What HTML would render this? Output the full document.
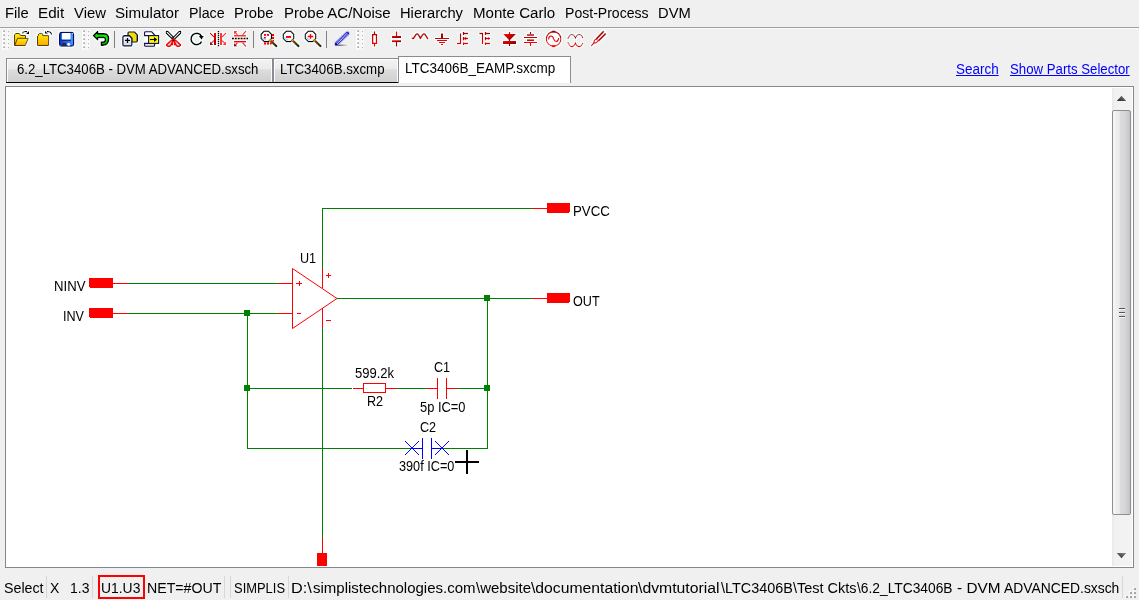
<!DOCTYPE html>
<html>
<head>
<meta charset="utf-8">
<title>LTC3406B_EAMP.sxcmp</title>
<style>
html,body{margin:0;padding:0;}
body{width:1139px;height:600px;overflow:hidden;background:#f0f0f0;position:relative;font-family:"Liberation Sans",sans-serif;color:#000;}
.a{position:absolute;}
.t{position:absolute;white-space:pre;line-height:1;transform-origin:0 0;}
.m{font-size:15.5px;top:4.5px;}
.s{font-size:15.5px;top:579.5px;}
.sc{font-size:14px;}
.tab{position:absolute;box-sizing:border-box;border:1px solid #898c95;border-bottom:none;box-shadow:inset 1px 1px 0 rgba(255,255,255,.9),inset -1px 0 0 rgba(255,255,255,.9);}
.tab.off{top:58px;height:24px;background:linear-gradient(#f2f2f2 0,#ebebeb 45%,#dddddd 46%,#cfcfcf 100%);}
.tab.on{top:56px;height:27px;background:#fff;}
.tt{font-size:14px;}
.lnk{font-size:14px;color:#0000ff;text-decoration:underline;}
.sep{position:absolute;width:1px;background:#d7d7d7;top:576px;height:22px;}
.ic{position:absolute;top:31px;width:16px;height:16px;overflow:visible;}
.grip{position:absolute;top:30px;width:7px;height:20px;}
</style>
</head>
<body>
<!-- menu bar -->
<span class="t m" style="left:4.82px;transform:scaleX(0.9524)">File</span>
<span class="t m" style="left:37.77px;transform:scaleX(0.9804)">Edit</span>
<span class="t m" style="left:73.76px;transform:scaleX(0.9579)">View</span>
<span class="t m" style="left:115.01px;transform:scaleX(0.9776)">Simulator</span>
<span class="t m" style="left:189.09px;transform:scaleX(0.9189)">Place</span>
<span class="t m" style="left:234.05px;transform:scaleX(0.9557)">Probe</span>
<span class="t m" style="left:283.53px;transform:scaleX(0.9677)">Probe AC/Noise</span>
<span class="t m" style="left:399.81px;transform:scaleX(0.9492)">Hierarchy</span>
<span class="t m" style="left:472.78px;transform:scaleX(0.9734)">Monte Carlo</span>
<span class="t m" style="left:564.60px;transform:scaleX(0.9069)">Post-Process</span>
<span class="t m" style="left:658.26px;transform:scaleX(0.9500)">DVM</span>
<div class="a" style="left:0;top:27px;width:1139px;height:1px;background:#a0a0a0"></div>
<div class="a" style="left:0;top:28px;width:1139px;height:1px;background:#fafafa"></div>

<!-- TOOLBAR -->
<!--TB0--><svg class="a" style="left:0;top:28px" width="1139" height="28" viewBox="0 28 1139 28">
<defs>
<linearGradient id="gy" x1="0" y1="0" x2="0" y2="1"><stop offset="0" stop-color="#fff200"/><stop offset="1" stop-color="#ffa800"/></linearGradient>
<linearGradient id="gr" x1="0" y1="0" x2="1" y2="1"><stop offset="0" stop-color="#ff0808"/><stop offset="1" stop-color="#7a0000"/></linearGradient>
<linearGradient id="grv" gradientUnits="userSpaceOnUse" x1="0" y1="31" x2="0" y2="47"><stop offset="0" stop-color="#a00000"/><stop offset="1" stop-color="#ff0000"/></linearGradient>
<linearGradient id="grv2" gradientUnits="userSpaceOnUse" x1="0" y1="31" x2="0" y2="47"><stop offset="0" stop-color="#ff0000"/><stop offset="1" stop-color="#900000"/></linearGradient>
<linearGradient id="gb" x1="0" y1="0" x2="1" y2="0"><stop offset="0" stop-color="#0a3fd0"/><stop offset="0.75" stop-color="#2f7cf5"/><stop offset="1" stop-color="#1a5ce0"/></linearGradient>
<linearGradient id="gw" x1="0" y1="0" x2="0" y2="1"><stop offset="0" stop-color="#ffffff"/><stop offset="1" stop-color="#d8d8d8"/></linearGradient>
<linearGradient id="gg" x1="0" y1="0" x2="0" y2="1"><stop offset="0" stop-color="#00c800"/><stop offset="0.45" stop-color="#00ff00"/><stop offset="1" stop-color="#00a000"/></linearGradient>
<linearGradient id="gh" x1="0" y1="0" x2="1" y2="1"><stop offset="0" stop-color="#c89000"/><stop offset="0.14" stop-color="#6a4a08"/><stop offset="1" stop-color="#3a2400"/></linearGradient>
<linearGradient id="gsh" gradientUnits="userSpaceOnUse" x1="335" y1="0" x2="348" y2="0"><stop offset="0" stop-color="#000"/><stop offset="1" stop-color="#000" stop-opacity="0"/></linearGradient>
<filter id="halo" x="-20%" y="-20%" width="140%" height="140%"><feMorphology in="SourceAlpha" operator="dilate" radius="0.9" result="d"/><feGaussianBlur in="d" stdDeviation="0.35" result="b"/><feFlood flood-color="#f6ffff" flood-opacity="0.95"/><feComposite in2="b" operator="in" result="h"/><feMerge><feMergeNode in="h"/><feMergeNode in="SourceGraphic"/></feMerge></filter>
<g id="grip"><g fill="#fdfdfd"><rect x="-1" y="30" width="3.4" height="19.6"/><rect x="3.6" y="30" width="3" height="19.6"/></g><g fill="#949494"><rect x="0.4" y="30.4" width="1.5" height="1.5"/><rect x="0.4" y="34.4" width="1.5" height="1.5"/><rect x="0.4" y="38.4" width="1.5" height="1.5"/><rect x="0.4" y="42.4" width="1.5" height="1.5"/><rect x="0.4" y="46.4" width="1.5" height="1.5"/></g><g fill="#a8a8a8"><rect x="4.900" y="31" width="1" height="1.2"/><rect x="4.900" y="35" width="1" height="1.2"/><rect x="4.900" y="39" width="1" height="1.2"/><rect x="4.900" y="43" width="1" height="1.2"/><rect x="4.900" y="47" width="1" height="1.2"/></g></g>
<g id="lens"><path d="M-2.200 -5.300H2.200L5.300 -2.200V2.200L2.200 5.300H-2.200L-5.300 2.200V-2.200Z" fill="#fafafa" stroke="#000" stroke-width="1.300"/><path d="M-3.900 1.200Q-3.200 3.300 -0.300 3.300" fill="none" stroke="#a0dcf8" stroke-width="1.500"/><path d="M4 4L10 9.700" stroke="url(#gh)" stroke-width="2.400" stroke-linecap="round"/><circle cx="4.200" cy="4.100" r="0.750" fill="#e0a000"/></g>
</defs>
<use href="#grip" x="3"/>
<use href="#grip" x="83"/>
<use href="#grip" x="357"/>
<g shape-rendering="crispEdges" fill="#808080"><rect x="114" y="31" width="1" height="17"/><rect x="253" y="31" width="1" height="17"/><rect x="326" y="31" width="1" height="17"/></g>
<!-- open -->
<g filter="url(#halo)">
<path d="M14.500 45.500V35L15.500 33.500H19.500L20.500 35.500H25.500V38.500L20 45.500Z" fill="url(#gy)" stroke="#5c3a00" stroke-width="1"/>
<path d="M14.600 45.500L17.600 38.300H28.300L25.300 45.500Z" fill="url(#gy)" stroke="#5c3a00" stroke-width="1" stroke-linejoin="round"/>
<path d="M22.500 33.600Q22.800 31.600 25 31.600H27" fill="none" stroke="#000" stroke-width="1.300"/>
<path d="M25.800 33.900H29V30.700Z" fill="#000"/>
</g>
<!-- close -->
<g filter="url(#halo)">
<path d="M37.500 45.500V36L38.500 35.600V34L39.200 33.400H42L42.700 34V35.600H48.600V45.500Z" fill="url(#gy)" stroke="#5c3a00" stroke-width="1" stroke-linejoin="round"/>
<path d="M51.500 34.800Q51.600 31.600 48 31.600H47" fill="none" stroke="#000" stroke-width="1.300"/>
<path d="M45 30.600V33.800H48.200Z" fill="#000"/>
</g>
<!-- save -->
<g filter="url(#halo)">
<rect x="59.600" y="32.400" width="14" height="13.800" rx="1.800" fill="url(#gb)" stroke="#000a70" stroke-width="1.200"/>
<rect x="61.800" y="33" width="8.800" height="6.800" rx="0.800" fill="#fff"/>
<path d="M61.500 40.200H71" stroke="#000a70" stroke-width="0.900" fill="none"/>
<rect x="71.300" y="34.500" width="1.400" height="10" fill="#58b0ff" opacity="0.800"/>
<rect x="62" y="43" width="4" height="2.700" fill="#2a2a2a"/>
<circle cx="68.700" cy="44.300" r="1.500" fill="#fff"/>
<circle cx="72.300" cy="33.700" r="0.600" fill="#fff"/>
</g>
<!-- undo -->
<g filter="url(#halo)">
<path d="M93.500 35.600L97.600 31.500V33.700H104.200Q108.600 33.700 108.600 38.600Q108.600 45.200 103 45.200H101.300V42H103.300Q105.300 42 105.300 39.600Q105.300 37.500 103.300 37.500H97.600V39.700Z" fill="url(#gg)" stroke="#000" stroke-width="1.500" stroke-linejoin="round"/>
</g>
<!-- copy -->
<g filter="url(#halo)">
<path d="M127.900 33Q127.900 31.900 129 31.900H134.500L137.300 34.700V41Q137.300 42.100 136.200 42.100H127.900Z" fill="#f0e000" stroke="#10104c" stroke-width="1.400"/>
<path d="M122.800 37Q122.800 35.700 124.100 35.700H129.400L131.900 38.200V44.700Q131.900 46 130.600 46H124.100Q122.800 46 122.800 44.700Z" fill="url(#gw)" stroke="#10104c" stroke-width="1.400"/>
<path d="M125 40.400H130M127.500 37.900V42.900" stroke="#000" stroke-width="1.300" fill="none"/>
</g>
<!-- paste -->
<rect x="144" y="31" width="16" height="16" fill="#fff"/>
<g>
<path d="M144.600 35.600V32.600Q144.600 31.700 145.500 31.700H151.500L154.600 35V35.600Z" fill="#fff" stroke="#10104c" stroke-width="1.100" stroke-linejoin="round"/>
<path d="M144.600 43.400H154.600V45.300Q154.600 46.300 153.600 46.300H145.600Q144.600 46.300 144.600 45.300Z" fill="#e8e8e4" stroke="#10104c" stroke-width="1.100"/>
<rect x="148.600" y="35.600" width="10" height="7.800" fill="#ffff00" stroke="#10104c" stroke-width="1.100"/>
<path d="M150 39.500H156" stroke="#000" stroke-width="1.100"/>
<path d="M154 37V42L157.200 39.500Z" fill="#000"/>
</g>
<!-- cut -->
<g filter="url(#halo)">
<path d="M166.300 31.300H167.900L174.300 38L173.300 40L166.300 33.200Z" fill="#fff" stroke="#000" stroke-width="1.200" stroke-linejoin="round"/>
<path d="M180.700 31.300H179.100L172.700 38L173.700 40L180.700 33.200Z" fill="#fff" stroke="#000" stroke-width="1.200" stroke-linejoin="round"/>
<path d="M173.500 39.500L171.500 40.200L166.600 44.600Q166.300 45.800 167.600 46.200L169.800 46.200Q170.900 45.800 171.300 44.500L172.400 42V45.500" fill="#b8e4e4" stroke="#ff0000" stroke-width="1.600" stroke-linejoin="round"/>
<path d="M173.500 39.500L175.500 40.200L180.400 44.600Q180.700 45.800 179.400 46.200L177.200 46.200Q176.100 45.800 175.700 44.500L174.600 42V45.500" fill="#b8e4e4" stroke="#ff0000" stroke-width="1.600" stroke-linejoin="round"/>
<path d="M171.500 40L173.500 39L175.500 40L174.800 42.500H172.200Z" fill="#ff0000"/>
<circle cx="173.500" cy="40.400" r="0.700" fill="#000"/>
</g>
<!-- rotate -->
<g filter="url(#halo)">
<path d="M201.500 36.300A5.600 5.600 0 1 0 201.700 41.300" fill="none" stroke="#000" stroke-width="1.800"/>
<path d="M198.600 36.100H204L201.600 39.800Z" fill="#000"/>
</g>
<!-- mirror -->
<g filter="url(#halo)">
<rect x="214" y="33" width="2" height="12" fill="url(#grv2)"/>
<rect x="220" y="33" width="2" height="12" fill="#ff3838"/>
<path d="M210 33L214 37M214 40.500L211 43.500" stroke="#e80000" stroke-width="1.300" fill="none"/>
<path d="M226 33L222 37M222 40.500L225 43.500" stroke="#ff3030" stroke-width="1.300" fill="none"/>
<path d="M210 41.500V45H213.500Z" fill="#a00000"/>
<path d="M226 41.500V45H222.500Z" fill="#ff3030"/>
</g>
<path d="M218.500 31V47" stroke="#000" stroke-width="1.300" stroke-dasharray="1.200 0.800" fill="none"/>
<!-- flip -->
<g filter="url(#halo)">
<rect x="234" y="35" width="12" height="1.700" fill="#ff3838"/>
<rect x="234" y="41" width="12" height="1.700" fill="#ff0000"/>
<path d="M237.500 35L235 32M242.500 35L246 31" stroke="#ff3030" stroke-width="1.300" fill="none"/>
<path d="M237.500 42.700L235 45.500M242.500 42.700L246 46.500" stroke="#e00000" stroke-width="1.300" fill="none"/>
<path d="M234 31H237.500L234 34.500Z" fill="#ff3030"/>
<path d="M234 46.500H237.500L234 43Z" fill="#a00000"/>
</g>
<path d="M232 38.500H248" stroke="#000" stroke-width="1.300" stroke-dasharray="1.800 1.100" fill="none"/>
<!-- zoom box -->
<g fill="#ff0000"><rect x="264" y="34" width="2" height="2"/><rect x="267" y="34" width="2" height="2"/><rect x="272" y="34" width="2" height="2"/><rect x="272" y="37" width="2" height="2"/><rect x="272" y="40" width="2" height="2"/><rect x="264" y="42.300" width="2" height="2"/><rect x="267" y="42.300" width="2" height="2"/><rect x="270" y="42.300" width="2" height="2"/></g>
<g filter="url(#halo)"><use href="#lens" x="266.300" y="36.400"/></g>
<g fill="#ff0000"><rect x="264" y="34" width="2" height="1.800"/><rect x="267" y="34" width="2" height="1.800"/><path d="M264 37H265.800V38.600H264Z"/><rect x="272" y="34" width="2" height="2"/><rect x="272" y="37" width="2" height="2"/><rect x="272.500" y="40" width="1.500" height="1.500"/><rect x="264" y="42.300" width="2" height="2"/><rect x="267" y="42.300" width="2" height="2"/><rect x="270" y="42.300" width="1.800" height="2"/></g>
<!-- zoom out -->
<g filter="url(#halo)"><use href="#lens" x="288.500" y="36.400"/></g>
<rect x="286" y="36" width="5" height="1.900" fill="#ff0000"/>
<!-- zoom in -->
<g filter="url(#halo)"><use href="#lens" x="310.500" y="36.400"/></g>
<path d="M307.800 36.500H313.200M310.500 34V38.800" stroke="#ff0000" stroke-width="1.300" fill="none"/>
<!-- pencil -->
<g>
<path d="M335.300 45.200H347.500" stroke="url(#gsh)" stroke-width="1.200"/>
<path d="M336.600 43.600L347.400 33.400" stroke="#a8a8ff" stroke-width="5" stroke-linecap="round" opacity="0.600"/>
<path d="M336.600 43.600L347.400 33.400" stroke="#2222c8" stroke-width="3.300" stroke-linecap="round"/>
<path d="M337 43.300L347.200 33.600" stroke="#fff" stroke-width="1.900" stroke-dasharray="0.650 0.700" opacity="0.950"/>
<path d="M335.200 45.300L335.600 43.600L337 44.800Z" fill="#000"/>
</g>
<!-- resistor -->
<g filter="url(#halo)">
<path d="M374.500 31.200V46.800" stroke="url(#grv)" stroke-width="1.300"/>
<rect x="372.600" y="34.600" width="3.900" height="8.800" fill="#fff" stroke="url(#grv)" stroke-width="1.300"/>
</g>
<!-- capacitor -->
<g filter="url(#halo)">
<path d="M396.500 31.200V36M396.500 42V46.800" stroke="url(#grv2)" stroke-width="1.300"/>
<rect x="392" y="35.900" width="9" height="2.100" fill="url(#gr)"/>
<rect x="392" y="40.100" width="9" height="2.100" fill="url(#gr)"/>
</g>
<!-- inductor -->
<g filter="url(#halo)">
<path d="M412.300 38.300H413.600L415.400 35.400Q417.100 32.300 418.800 35.400L420.400 38.400L422.200 35.400Q424 32.300 425.700 35.400L427.600 38.600" fill="none" stroke="url(#grv)" stroke-width="1.800" stroke-linejoin="round" stroke-linecap="round"/>
</g>
<!-- ground -->
<g filter="url(#halo)">
<rect x="441" y="33.300" width="2" height="5" fill="#a80000"/>
<rect x="435" y="38" width="14" height="1" fill="#c80000"/>
<rect x="437" y="40" width="10" height="1" fill="#e00000"/>
<rect x="439" y="42" width="6" height="1" fill="#f00000"/>
<rect x="441" y="44" width="2" height="1" fill="#ff0000"/>
</g>
<!-- nmos -->
<g filter="url(#halo)" stroke="url(#grv)" stroke-width="1.300" fill="none">
<path d="M460.500 33.300V43.500H457"/>
<path d="M463.500 32V35M463.500 37V40.500M463.500 42.300V45"/>
<path d="M463.500 33.500H468M463.500 38.500H468M463.500 43.500H468"/>
<path d="M463.800 38.500L466.200 36.200V40.800Z" fill="#e00000" stroke="none"/>
</g>
<!-- pmos -->
<g filter="url(#halo)" stroke="url(#grv)" stroke-width="1.300" fill="none">
<path d="M479.200 33.500H482.500V44"/>
<path d="M485.500 32V35M485.500 37V40.500M485.500 42.300V45"/>
<path d="M485.500 33.500H490M485.500 38.500H490M485.500 43.500H490"/>
<path d="M490 38.500L488 36.800V40.200Z" fill="#e00000" stroke="none"/>
</g>
<!-- diode -->
<g filter="url(#halo)">
<path d="M509.500 32V46" stroke="url(#grv2)" stroke-width="1.300"/>
<path d="M503 34.100H516.100L509.500 40.800Z" fill="url(#gr)"/>
<rect x="503" y="41" width="13" height="3" fill="url(#gr)"/>
</g>
<!-- battery -->
<g filter="url(#halo)">
<path d="M530.500 32V34M530.500 43V46" stroke="url(#grv)" stroke-width="1.300"/>
<rect x="527" y="34.100" width="7" height="1.800" fill="#a80000"/>
<rect x="524" y="37" width="13" height="1" fill="#c00000"/>
<rect x="527" y="39.200" width="7" height="1.800" fill="#e00000"/>
<rect x="524" y="42" width="13" height="1" fill="#ff0000"/>
</g>
<!-- ac source -->
<g filter="url(#halo)">
<circle cx="553.600" cy="38.900" r="7.300" fill="#fff" stroke="url(#grv)" stroke-width="1.100"/>
<path d="M550.600 32.600L552.400 30.500H554.800L556.600 32.600Z" fill="#a80000"/>
<path d="M550.600 45.200L552.400 47.300H554.800L556.600 45.200Z" fill="#ff0000"/>
<path d="M548.600 39.500Q548.800 36 551 36Q552.800 36 553.600 38.800Q554.500 41.500 556.200 41.500Q558.400 41.500 558.600 38" fill="none" stroke="#e80000" stroke-width="1.100"/>
</g>
<!-- waveform -->
<g filter="url(#halo)" fill="none" stroke-width="1.050">
<path d="M567.200 38.200H568.400Q569.600 34.400 571.900 34.400Q574 34.400 575.400 38Q576.800 34.400 579.100 34.400Q581.600 34.400 583 38.200" stroke="#b00000"/>
<path d="M567.200 42.800H568.400Q569.600 46.600 571.900 46.600Q574 46.600 575.400 43Q576.800 46.600 579.100 46.600Q581.600 46.600 583 42.800" stroke="#f00000"/>
</g>
<!-- probe -->
<g filter="url(#halo)">
<path d="M591.200 46L593.800 43" stroke="#f00000" stroke-width="1.200"/>
<path d="M593.500 43.300L594.400 40.300L596.500 38.600L598.500 40.600L596.500 42.600Z" fill="#fff" stroke="#e00000" stroke-width="1.200" stroke-linejoin="round"/>
<path d="M597.400 39.600L604.800 32.400" stroke="#fff" stroke-width="3.400"/>
<path d="M596.300 38.800L603.700 31.200M598.500 40.800L605.800 33.600" stroke="#b80000" stroke-width="1.700"/>
</g>
</svg>
<!--TB1-->

<!-- tabs -->
<div class="tab off" style="left:6px;width:267px"></div>
<div class="tab off" style="left:273px;width:126px"></div>
<div class="a" style="left:6px;top:82px;width:392px;height:1px;background:#000"></div>
<div class="tab on" style="left:398px;width:173px"></div>
<span class="t tt" style="left:17.28px;top:62px;transform:scaleX(0.9423)">6.2_LTC3406B - DVM ADVANCED.sxsch</span>
<span class="t tt" style="left:279.75px;top:62px;transform:scaleX(0.9485)">LTC3406B.sxcmp</span>
<span class="t tt" style="left:404.79px;top:61px;transform:scaleX(0.9641)">LTC3406B_EAMP.sxcmp</span>
<span class="t lnk" style="left:955.74px;top:62px;transform:scaleX(0.9621)">Search</span>
<span class="t lnk" style="left:1009.74px;top:62px;transform:scaleX(0.9437)">Show Parts Selector</span>

<!-- canvas -->
<div class="a" style="left:5px;top:86px;width:1127px;height:480px;border:1px solid #828790;background:#fff"></div>
<!-- scrollbar -->
<div class="a" style="left:1112px;top:88px;width:20px;height:478px;background:linear-gradient(90deg,#e9e9e9 0,#f1f1f1 15%,#f3f3f3 100%)"></div>
<div class="a" style="left:1112px;top:110px;width:19px;height:405px;box-sizing:border-box;border:1px solid #8f8f8f;border-radius:2px;background:linear-gradient(90deg,#f6f6f6 0,#e9e9ea 38%,#dcdcdf 42%,#d6d6da 70%,#c4c4c8 100%)"></div>
<svg class="a" style="left:1112px;top:88px" width="20" height="478" viewBox="1112 88 20 478">
<defs><linearGradient id="ga" x1="0" y1="1" x2="1" y2="0"><stop offset="0" stop-color="#202020"/><stop offset="1" stop-color="#8a8a8a"/></linearGradient></defs>
<path d="M1121.500 95.800L1126.200 100.900H1116.800Z" fill="url(#ga)"/>
<path d="M1121.500 558.200L1126.200 553.100H1116.800Z" fill="url(#ga)"/>
<g shape-rendering="crispEdges"><rect x="1119" y="308" width="6" height="1" fill="#555"/><rect x="1119" y="309" width="6" height="1" fill="#f4f4f4"/><rect x="1119" y="312" width="6" height="1" fill="#555"/><rect x="1119" y="313" width="6" height="1" fill="#f4f4f4"/><rect x="1119" y="316" width="6" height="1" fill="#555"/><rect x="1119" y="317" width="6" height="1" fill="#f4f4f4"/></g>
</svg>
<!-- size grip -->
<svg class="a" style="left:1124px;top:584px" width="15" height="16" viewBox="1124 584 15 16" shape-rendering="crispEdges">
<g fill="#fcfcfc"><rect x="1133" y="587" width="2" height="2"/><rect x="1129" y="591" width="2" height="2"/><rect x="1133" y="591" width="2" height="2"/><rect x="1125" y="595" width="2" height="2"/><rect x="1129" y="595" width="2" height="2"/><rect x="1133" y="595" width="2" height="2"/></g>
<g fill="#a6a6a6"><rect x="1134" y="588" width="2" height="2"/><rect x="1130" y="592" width="2" height="2"/><rect x="1134" y="592" width="2" height="2"/><rect x="1126" y="596" width="2" height="2"/><rect x="1130" y="596" width="2" height="2"/><rect x="1134" y="596" width="2" height="2"/></g>
</svg>
<!-- SCHEMATIC -->
<svg class="a" style="left:0;top:0" width="1139" height="600" viewBox="0 0 1139 600">
<g shape-rendering="crispEdges" fill="none" stroke-width="1">
<g stroke="#008000">
<path d="M128 283.5H278"/>
<path d="M128 313.5H278"/>
<path d="M322.5 269V208.5H532"/>
<path d="M337 298.5H532"/>
<path d="M247.5 313V448.5H412"/>
<path d="M247 388.5H352"/>
<path d="M397 388.5H427"/>
<path d="M457 388.5H487"/>
<path d="M442 448.5H487.5V298"/>
<path d="M322.5 328V538"/>
</g>
<g stroke="#ff0000">
<path d="M113 283.5H128M113 313.5H128M278 283.5H292M278 313.5H292"/>
<path d="M322.5 269V288M322.5 308V328M322.5 538V553"/>
<path d="M532 208.5H547M532 298.5H547"/>
<path d="M353 388.5H363M386 388.5H397"/>
<rect x="363.5" y="383.5" width="22" height="9"/>
<path d="M427 388.5H437M446 388.5H457M437.5 378V399M446.5 378V399"/>
<path d="M296 283.5H302M299.5 281V286M297 313.5H301M326 275.5H331M328.500 273V278M326 320.5H331"/>
</g>
<g stroke="#0000ff">
<path d="M412 448.5H422M431 448.5H442M422.500 438V459M431.500 438V459"/>
</g>
<g fill="#ff0000" stroke="none">
<rect x="89" y="278" width="24" height="10"/>
<rect x="89" y="308" width="24" height="10"/>
<rect x="547" y="203" width="23" height="10"/>
<rect x="547" y="293" width="23" height="10"/>
<rect x="317" y="553" width="10" height="13"/>
</g>
<g fill="#fff" stroke="none"><rect x="89" y="287" width="1" height="1"/><rect x="89" y="317" width="1" height="1"/><rect x="569" y="212" width="1" height="1"/><rect x="569" y="302" width="1" height="1"/></g>
<g fill="#008000" stroke="none">
<rect x="244" y="310" width="6" height="6"/>
<rect x="244" y="385" width="6" height="6"/>
<rect x="484" y="295" width="6" height="6"/>
<rect x="484" y="385" width="6" height="6"/>
</g>
<g fill="#000" stroke="none">
<rect x="455" y="461" width="24" height="2"/>
<rect x="466" y="450" width="2" height="24"/>
</g>
</g>
<g fill="none" stroke-width="1">
<path d="M292.5 268.500V328.500L337 298.500Z" stroke="#ff0000"/>
<path d="M405 441L419 455M405 455L419 441M435 441L449 455M435 455L449 441" stroke="#0000ff"/>
</g>
</svg>
<span class="t sc" style="left:53.81px;top:279px;transform:scaleX(0.9396)">NINV</span>
<span class="t sc" style="left:63.06px;top:309px;transform:scaleX(0.9000)">INV</span>
<span class="t sc" style="left:572.80px;top:204px;transform:scaleX(0.9477)">PVCC</span>
<span class="t sc" style="left:573.44px;top:294px;transform:scaleX(0.9000)">OUT</span>
<span class="t sc" style="left:299.69px;top:251px;transform:scaleX(0.9000)">U1</span>
<span class="t sc" style="left:354.80px;top:366px;transform:scaleX(0.9309)">599.2k</span>
<span class="t sc" style="left:366.63px;top:394px;transform:scaleX(0.9000)">R2</span>
<span class="t sc" style="left:434.25px;top:360px;transform:scaleX(0.9000)">C1</span>
<span class="t sc" style="left:419.81px;top:400px;transform:scaleX(0.9192)">5p IC=0</span>
<span class="t sc" style="left:419.50px;top:420px;transform:scaleX(0.9000)">C2</span>
<span class="t sc" style="left:399.31px;top:459px;transform:scaleX(0.9067)">390f IC=0</span>

<!-- status bar -->
<span class="t s" style="left:4.06px;transform:scaleX(0.9184)">Select</span>
<span class="t s" style="left:50.37px;transform:scaleX(0.9000)">X</span>
<span class="t s" style="left:70.40px;transform:scaleX(0.9000)">1.3</span>
<span class="t s" style="left:100.85px;transform:scaleX(0.8959)">U1.U3</span>
<span class="t s" style="left:147.35px;transform:scaleX(0.9144)">NET=#OUT</span>
<span class="t s" style="left:233.87px;transform:scaleX(0.8343)">SIMPLIS</span>
<span class="t s" style="left:290.95px;transform:scaleX(1.0488)">D:\</span>
<span class="t s" style="left:312.51px;transform:scaleX(0.9673)">simplistechnologies.com</span>
<span class="t s" style="left:475.50px;transform:scaleX(0.9680)">\website</span>
<span class="t s" style="left:530.75px;transform:scaleX(1.0143)">\documentation</span>
<span class="t s" style="left:638.00px;transform:scaleX(1.0171)">\dvmtutorial</span>
<span class="t s" style="left:720.75px;transform:scaleX(0.9301)">\LTC3406B</span>
<span class="t s" style="left:793.00px;transform:scaleX(0.9341)">\Test Ckts</span>
<span class="t s" style="left:856.75px;transform:scaleX(0.8895)">\6.2_LTC3406B</span>
<span class="t s" style="left:956.51px;transform:scaleX(0.9905)">- DVM</span>
<span class="t s" style="left:1004.02px;transform:scaleX(0.8947)">ADVANCED.sxsch</span>
<div class="a" style="left:98px;top:575px;width:43px;height:20px;border:2px solid #ff0000"></div>
<div class="sep" style="left:46px"></div>
<div class="sep" style="left:92px"></div>
<div class="sep" style="left:224px"></div>
<div class="sep" style="left:230px"></div>
<div class="sep" style="left:288px"></div>
<div class="sep" style="left:1122px"></div>
</body>
</html>
